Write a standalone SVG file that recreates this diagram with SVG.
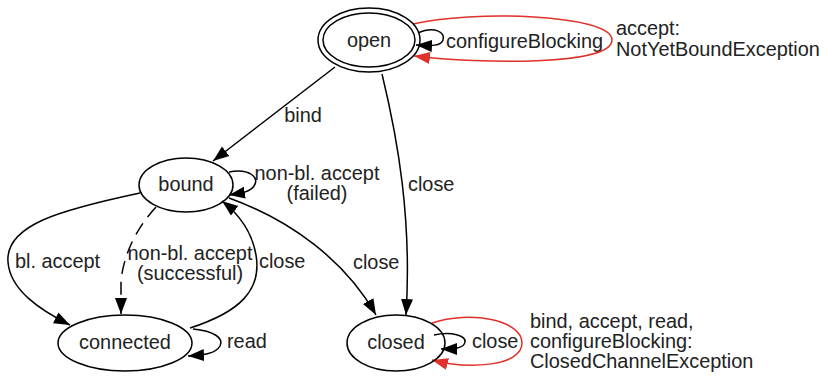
<svg xmlns="http://www.w3.org/2000/svg" width="827" height="377" viewBox="0 0 827 377">
  <style>
    text { font-family: "Liberation Sans", Arial, sans-serif; font-size: 19.9px; fill: #222; }
    .mid { text-anchor: middle; }
    .node { fill: none; stroke: #000; stroke-width: 1.5; }
    .edge { fill: none; stroke: #000; stroke-width: 1.5; marker-end: url(#arrow); }
    .dashed { stroke-dasharray: 13 8; }
    .err { fill: none; stroke: #e0302a; stroke-width: 1.5; marker-end: url(#arrowRed); }
  </style>
  <defs>
    <marker id="arrow" markerUnits="userSpaceOnUse" markerWidth="17" markerHeight="14" refX="16" refY="7" orient="auto">
      <path d="M0,1 L16,7 L0,13 z" fill="#000"/>
    </marker>
    <marker id="arrowRed" markerUnits="userSpaceOnUse" markerWidth="17" markerHeight="14" refX="16" refY="7" orient="auto">
      <path d="M0,1 L16,7 L0,13 z" fill="#e0302a"/>
    </marker>
  </defs>

  <rect width="827" height="377" fill="#fff"/>

  <!-- transitions -->
  <g id="edges">
    <!-- open: configureBlocking (self) -->
    <path class="edge" d="M418,33 C434,26 446,32 443,40 C441,46 432,46 416,45"/>
    <text x="446" y="48">configureBlocking</text>
    <!-- open: accept fails (self, red) -->
    <path class="err" d="M413,24 C470,10 612,14 612,40 C612,66 480,64 414,56"/>
    <text x="616" y="35">accept:</text>
    <text x="616" y="56">NotYetBoundException</text>
    <!-- open -> bound -->
    <path class="edge" d="M335,67 L213,161"/>
    <text class="mid" x="303" y="122">bind</text>
    <!-- open -> closed -->
    <path class="edge" d="M382,74 C398,140 412,220 406,315"/>
    <text x="408" y="191">close</text>
    <!-- bound: non-bl. accept failed (self) -->
    <path class="edge" d="M229,172 C250,168 260,178 254,186 C250,192 242,193 229,195"/>
    <text class="mid" x="317" y="180">non-bl. accept</text>
    <text class="mid" x="317" y="200">(failed)</text>
    <!-- bound -> connected, blocking accept -->
    <path class="edge" d="M140,193 C60,210 5,225 8,262 C10,290 40,310 70,325"/>
    <text x="15" y="268">bl. accept</text>
    <!-- bound -> connected, non-blocking accept (dashed) -->
    <path class="edge dashed" d="M156,207 C135,230 124,255 121,280 L121,314"/>
    <text class="mid" x="190" y="260">non-bl. accept</text>
    <text class="mid" x="190" y="280">(successful)</text>
    <!-- connected -> bound -->
    <path class="edge" d="M190,328 C240,312 262,290 256,255 C252,232 240,215 222,201"/>
    <text x="259" y="268">close</text>
    <!-- bound -> closed -->
    <path class="edge" d="M229,198 C290,220 345,260 376,315"/>
    <text x="353" y="269">close</text>
    <!-- connected: read (self) -->
    <path class="edge" d="M193,329 C214,331 224,338 220,346 C216,353 206,355 188,356"/>
    <text x="227" y="348">read</text>
    <!-- closed: close (self) -->
    <path class="edge" d="M434,335 C452,331 466,336 465,342 C464,348 456,349 441,349"/>
    <text x="472" y="348">close</text>
    <!-- closed: everything else fails (self, red) -->
    <path class="err" d="M432,323 C470,310 522,320 522,343 C522,366 470,370 432,360"/>
    <text x="530" y="328">bind, accept, read,</text>
    <text x="530" y="348">configureBlocking:</text>
    <text x="530" y="368">ClosedChannelException</text>
  </g>

  <!-- states -->
  <g id="open">
    <ellipse class="node" cx="369" cy="40" rx="51" ry="32"/>
    <ellipse class="node" cx="369" cy="40" rx="46" ry="27"/>
    <text class="mid" x="369" y="47">open</text>
  </g>
  <g id="bound">
    <ellipse class="node" cx="186" cy="185" rx="47" ry="27"/>
    <text class="mid" x="186" y="191">bound</text>
  </g>
  <g id="connected">
    <ellipse class="node" cx="125" cy="343" rx="67" ry="28"/>
    <text class="mid" x="125" y="349">connected</text>
  </g>
  <g id="closed">
    <ellipse class="node" cx="396" cy="343" rx="49" ry="28"/>
    <text class="mid" x="396" y="349">closed</text>
  </g>
</svg>
